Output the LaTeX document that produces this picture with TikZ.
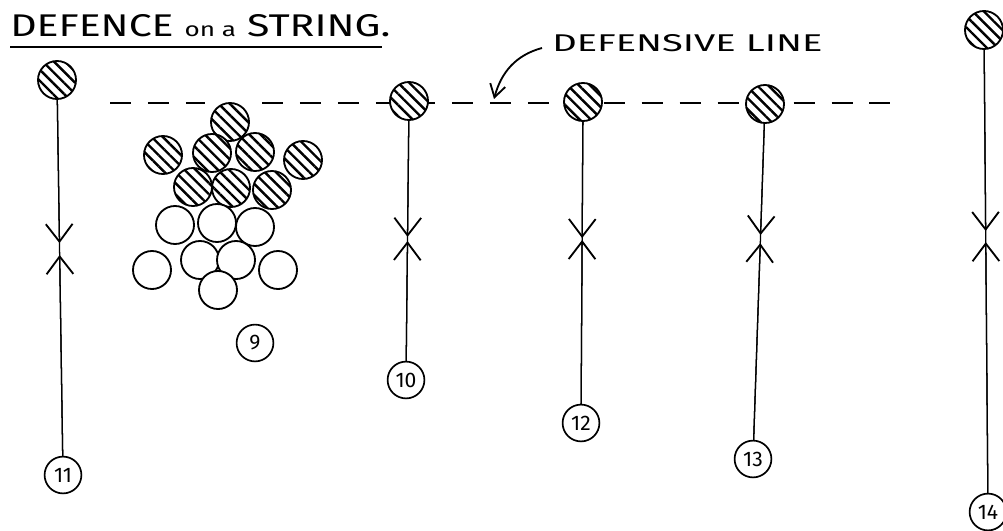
\documentclass[tikz,border=0pt]{standalone}
\usepackage{fontspec}
\setmainfont{Fira Sans}
\usetikzlibrary{arrows.meta,patterns.meta,calc}

\tikzset{
  player/.style={circle, draw, line width=1.3pt, minimum size=0.95cm, inner sep=0pt},
  guard/.style={player, preaction={fill=white}, pattern={Lines[angle=-45,distance=5.6pt,line width=1.7pt]}},
  runner/.style={player, fill=white},
  tag/.style={circle, draw, fill=white, line width=1.2pt, minimum size=0.92cm, inner sep=0pt, font=\fontsize{15}{15}\selectfont},
  string/.style={line width=0.9pt},
  barb/.tip={Straight Barb[length=12.5pt,width=19pt,line width=1.3pt]},
  pointer/.tip={Straight Barb[length=9pt,width=11pt,line width=1.3pt]},
  defline/.style={line width=1.9pt, dash pattern=on 15pt off 12pt},
}

\begin{document}
\begin{tikzpicture}[x=0.025cm, y=-0.025cm]
\useasboundingbox (0,0) rectangle (1003,531);

% heading
\node[anchor=base west, inner sep=0pt] (title) at (10,37)
  {\resizebox{9.5cm}{0.55cm}{\fontsize{22}{24}\selectfont DEFENCE {\fontsize{14}{14}\selectfont on a} STRING.}};
\coordinate (ulL) at (10,47);
\coordinate (ulR) at (382,47);
\draw[line width=2pt] (ulL) -- (ulR);

% the defensive line itself
\coordinate (lnW) at (110,103);
\coordinate (gapW) at (205,103);
\coordinate (gapE) at (262,103);
\coordinate (lnE) at (890,103);
\draw[defline] (lnW) -- (gapW);
\draw[defline] (gapE) -- (lnE);

% defenders on the string
\node[guard] (d11) at (57,80) {};
\node[guard] (d10) at (409,101) {};
\node[guard] (d12) at (583,102) {};
\node[guard] (d13) at (765,104) {};
\node[guard] (d14) at (984,30) {};

% numbered attackers
\node[tag] (n9) at (255,343) {9};
\node[tag] (n10) at (406,380) {10};
\node[tag] (n11) at (63,475) {11};
\node[tag] (n12) at (581,423) {12};
\node[tag] (n13) at (753,459) {13};
\node[tag] (n14) at (988,512) {14};

% the pack at 9
\foreach \p [count=\i] in {(230,122),(163,155),(212,153),(255,152),(303,160),(193,187),(231,188),(272,190)}
  \node[guard] (h\i) at \p {};
\foreach \p [count=\i] in {(175,225),(217,223),(255,227),(152,270),(200,260),(236,260),(278,270),(218,290)}
  \node[runner] (e\i) at \p {};

% strings with the two tips meeting half way
\foreach \d/\n/\a/\b in {d11/n11/0.413/0.443, d10/n10/0.487/0.502, d12/n12/0.424/0.43, d13/n13/0.369/0.392, d14/n14/0.417/0.44}{
  \draw[string] (\d) -- (\n);
  \draw[string,-{barb}] (\d) -- ($(\d)!\a!(\n)$);
  \draw[string,-{barb}] (\n) -- ($(\d)!\b!(\n)$);
}

% label and pointer
\node[anchor=west, inner sep=0pt] (dlabel) at (552,43.5)
  {\resizebox{6.75cm}{0.425cm}{DEFENSIVE LINE}};
\coordinate (dltip) at (494,99);
\draw[line width=1.3pt,-{pointer}] ($(dlabel.west)+(-10,4.5)$) to[out=195,in=75] (dltip);
\end{tikzpicture}
\end{document}
